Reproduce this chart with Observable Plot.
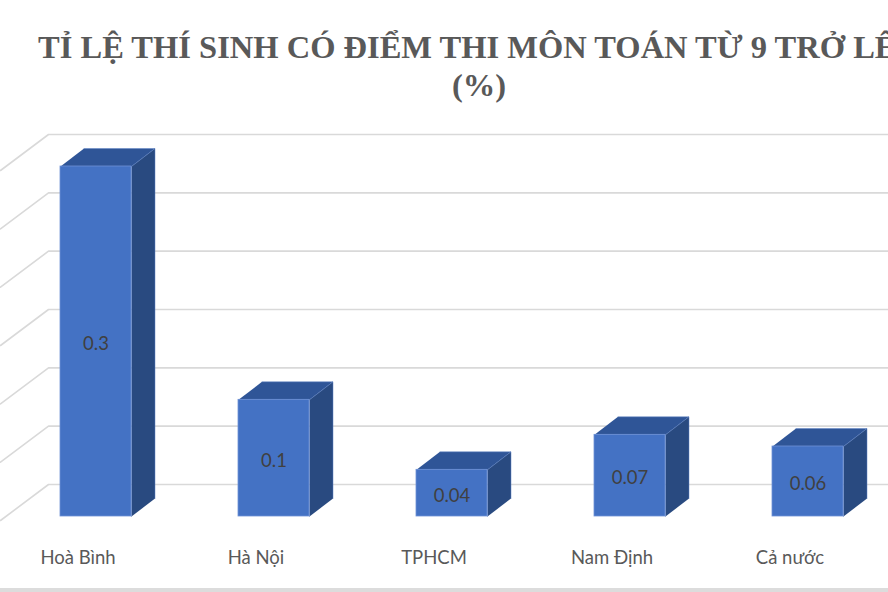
<!DOCTYPE html>
<html><head><meta charset="utf-8">
<script src="https://cdn.jsdelivr.net/npm/d3@7"></script>
<script src="https://cdn.jsdelivr.net/npm/@observablehq/plot@0.6"></script>
<style>
html,body{margin:0;padding:0;background:#fff;width:888px;height:592px;overflow:hidden}
#wrap{position:relative;width:888px;height:592px;overflow:hidden}
#title{position:absolute;left:0;top:0;width:958px;height:110px;padding-top:28px;box-sizing:border-box;text-align:center;
font:bold 32.5px/38px "Liberation Serif",serif;color:#595959;white-space:nowrap}
#chart{position:absolute;left:0;top:110px}
#band{position:absolute;left:0;top:588px;width:888px;height:4px;background:#dcdcdc}
</style></head><body>
<div id="wrap">
<div id="title">TỈ LỆ THÍ SINH CÓ ĐIỂM THI MÔN TOÁN TỪ 9 TRỞ LÊN<br>(%)</div>
<div id="chart"></div>
<div id="band"></div>
</div>
<script>
const categories = ["Hoà Bình","Hà Nội","TPHCM","Nam Định","Cả nước"];
const values = [0.3,0.1,0.04,0.07,0.06];
const labels = ["0.3","0.1","0.04","0.07","0.06"];
const gridValues = [0,0.05,0.1,0.15,0.2,0.25,0.3];

const W=888,H=478;
const xUnit=178, yUnit=350/0.3;
// chart-space sizes expressed in data units
const halfBar=35.5/xUnit, depthX=23.5/xUnit, depthY=18/yUnit;
const x0=-95.5/xUnit, x1=(W-95.5)/xUnit;
const yMin=(406-H)/yUnit, yMax=406/yUnit;
const wallBack=x0+48/xUnit, wallY=32/yUnit, wallFront=wallY-36/yUnit;

const bars=values.map((v,i)=>({i,v,label:labels[i],cat:categories[i]}));
const poly=(id,pts)=>pts.map(([x,y])=>({id,x,y}));
const tops=bars.flatMap(b=>poly("t"+b.i,[[b.i-halfBar,b.v],[b.i+halfBar,b.v],[b.i+halfBar+depthX,b.v+depthY],[b.i-halfBar+depthX,b.v+depthY]]));
const sides=bars.flatMap(b=>poly("s"+b.i,[[b.i+halfBar,0],[b.i+halfBar,b.v],[b.i+halfBar+depthX,b.v+depthY],[b.i+halfBar+depthX,depthY]]));
const grid=gridValues.flatMap(g=>poly("g"+g,[[x0,g+wallFront],[wallBack,g+wallY],[x1,g+wallY]]));

const plot=Plot.plot({
  width:W,height:H,margin:0,
  x:{type:"linear",domain:[x0,x1],range:[0,W],axis:null},
  y:{type:"linear",domain:[yMin,yMax],range:[H,0],axis:null},
  marks:[
    Plot.line(grid,{x:"x",y:"y",z:"id",stroke:"#d9d9d9",strokeWidth:1.6,curve:"linear"}),
    Plot.line(tops,{x:"x",y:"y",z:"id",fill:"#2f5597",stroke:"#5f82c4",strokeWidth:0.5,curve:"linear"}),
    Plot.line(sides,{x:"x",y:"y",z:"id",fill:"#294a80",stroke:"#5f82c4",strokeWidth:0.5,curve:"linear"}),
    Plot.rect(bars,{x1:b=>b.i-halfBar,x2:b=>b.i+halfBar,y1:()=>0,y2:"v",fill:"#4472c4",stroke:"#6f92d6",strokeWidth:0.8}),
    Plot.text(bars,{x:"i",y:b=>b.v/2,dy:2.5,text:"label",fill:"#404040",fontSize:18.5,fontFamily:"Lato"}),
    Plot.text(bars,{x:"i",y:()=>-36/yUnit,dx:-18,dy:6,text:"cat",fill:"#595959",fontSize:18.5,fontFamily:"Lato"})
  ]
});
document.getElementById("chart").append(plot);
</script>
</body></html>
